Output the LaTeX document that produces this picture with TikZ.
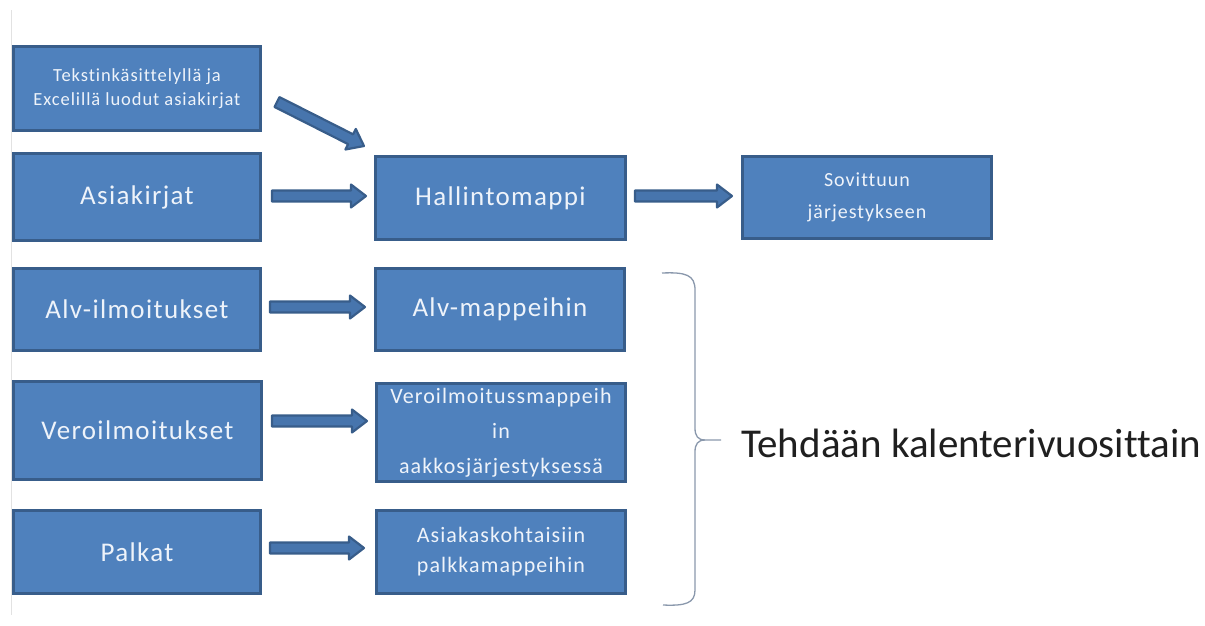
\documentclass[tikz,border=0pt]{standalone}
\usepackage{fontspec}
\setmainfont[Ligatures=NoCommon]{Carlito}
\newfontfamily\boxfont[LetterSpace=5,Ligatures=NoCommon]{Carlito}
\usetikzlibrary{calc}
\definecolor{bfill}{HTML}{4F81BD}
\definecolor{afill}{HTML}{4775AD}
\definecolor{bdr}{HTML}{385D8A}
\definecolor{btxt}{HTML}{EEF3FA}
\definecolor{brc}{HTML}{8A98AC}
\definecolor{edge}{HTML}{E2E2E2}
\tikzset{
  box/.style={draw=bdr, fill=bfill, line width=3pt, rectangle, inner sep=2pt,
    text=btxt, align=center},
  bigtxt/.style={font=\boxfont\fontsize{27}{30}\selectfont},
  smalltxt/.style={font=\boxfont\fontsize{18.5}{24}\selectfont},
  midtxt/.style={font=\boxfont\fontsize{20}{32}\selectfont},
  vtxt/.style={font=\boxfont\fontsize{22}{35}\selectfont},
  ptxt/.style={font=\boxfont\fontsize{22}{30}\selectfont},
  blockarrow/.style={draw=bdr, fill=afill, line width=2.2pt, line join=round,
    to path={
      let \p1=(\tikztostart), \p2=(\tikztotarget),
          \n1={atan2(\y2-\y1,\x2-\x1)}, \n2={veclen(\x2-\x1,\y2-\y1)} in
      ($(\p1)+(\n1+90:5.5pt)$)
      -- ($(\p1)+(\n1:{\n2-15pt})+(\n1+90:5.5pt)$)
      -- ($(\p1)+(\n1:{\n2-15pt})+(\n1+90:11.5pt)$)
      -- (\p2)
      -- ($(\p1)+(\n1:{\n2-15pt})+(\n1-90:11.5pt)$)
      -- ($(\p1)+(\n1:{\n2-15pt})+(\n1-90:5.5pt)$)
      -- ($(\p1)+(\n1-90:5.5pt)$) -- cycle}},
  bracestyle/.style={draw=brc, line width=1.3pt}
}
\begin{document}
\begin{tikzpicture}[x=1pt,y=-1pt]
\useasboundingbox (0,0) rectangle (1205,625);
\draw[edge, line width=1pt] (11,10) -- (11,615);

\node[box, smalltxt, minimum width=247pt, minimum height=84pt] (b1) at (137,88.5) {Tekstinkäsittelyllä ja\\Excelillä luodut asiakirjat};
\node[box, bigtxt, minimum width=247pt, minimum height=87pt] (b2) at (137,197) {Asiakirjat};
\node[box, bigtxt, minimum width=247pt, minimum height=82pt] (b3) at (137,309.5) {Alv-ilmoitukset};
\node[box, bigtxt, minimum width=248pt, minimum height=98pt] (b4) at (137.5,430.5) {Veroilmoitukset};
\node[box, bigtxt, minimum width=247pt, minimum height=83pt] (b5) at (137,552) {Palkat};

\node[box, bigtxt, minimum width=250pt, minimum height=83pt] (hall) at (500.5,198) {Hallintomappi};
\node[box, midtxt, minimum width=249pt, minimum height=82pt] (sov) at (867,197.5) {Sovittuun\\järjestykseen};
\node[box, bigtxt, minimum width=249pt, minimum height=82pt] (alvm) at (500,309.5) {Alv-mappeihin};
\node[box, vtxt, minimum width=249pt, minimum height=98pt] (verom) at (501,432.5) {Veroilmoitussmappeih\\in\\aakkosjärjestyksessä};
\node[box, ptxt, minimum width=249pt, minimum height=83pt] (palkm) at (501,552) {Asiakaskohtaisiin\\palkkamappeihin};

\path[blockarrow] ($(b1.east)+(15,13.5)$) to ($(hall.north west)+(-10,-9)$);
\path[blockarrow] ($(b2.east)+(10,-1)$) to ($(hall.west)+(-8,-2)$);
\path[blockarrow] ($(hall.east)+(8,-2)$) to ($(sov.west)+(-9,-1.5)$);
\path[blockarrow] ($(b3.east)+(8,-2.5)$) to ($(alvm.west)+(-9,-2.5)$);
\path[blockarrow] ($(b4.east)+(9,-9.5)$) to ($(verom.west)+(-8,-11.5)$);
\path[blockarrow] ($(b5.east)+(8,-4)$) to ($(palkm.west)+(-11,-4)$);

\coordinate (tip) at (721,440);
\draw[bracestyle] (662,273) .. controls (686,272) and (695,275) .. (695,290) -- (695,428)
  .. controls (695,436) and (698,440) .. (705,440) -- (tip);
\draw[bracestyle] (705,440) .. controls (698,440) and (695,444) .. (695,452) -- (695,590)
  .. controls (695,603) and (686,606) .. (663,605);

\node[anchor=west, font=\fontsize{41}{44}\selectfont, text=black!88, inner sep=0pt] (lbl) at (741,443) {Tehdään kalenterivuosittain};
\end{tikzpicture}
\end{document}
